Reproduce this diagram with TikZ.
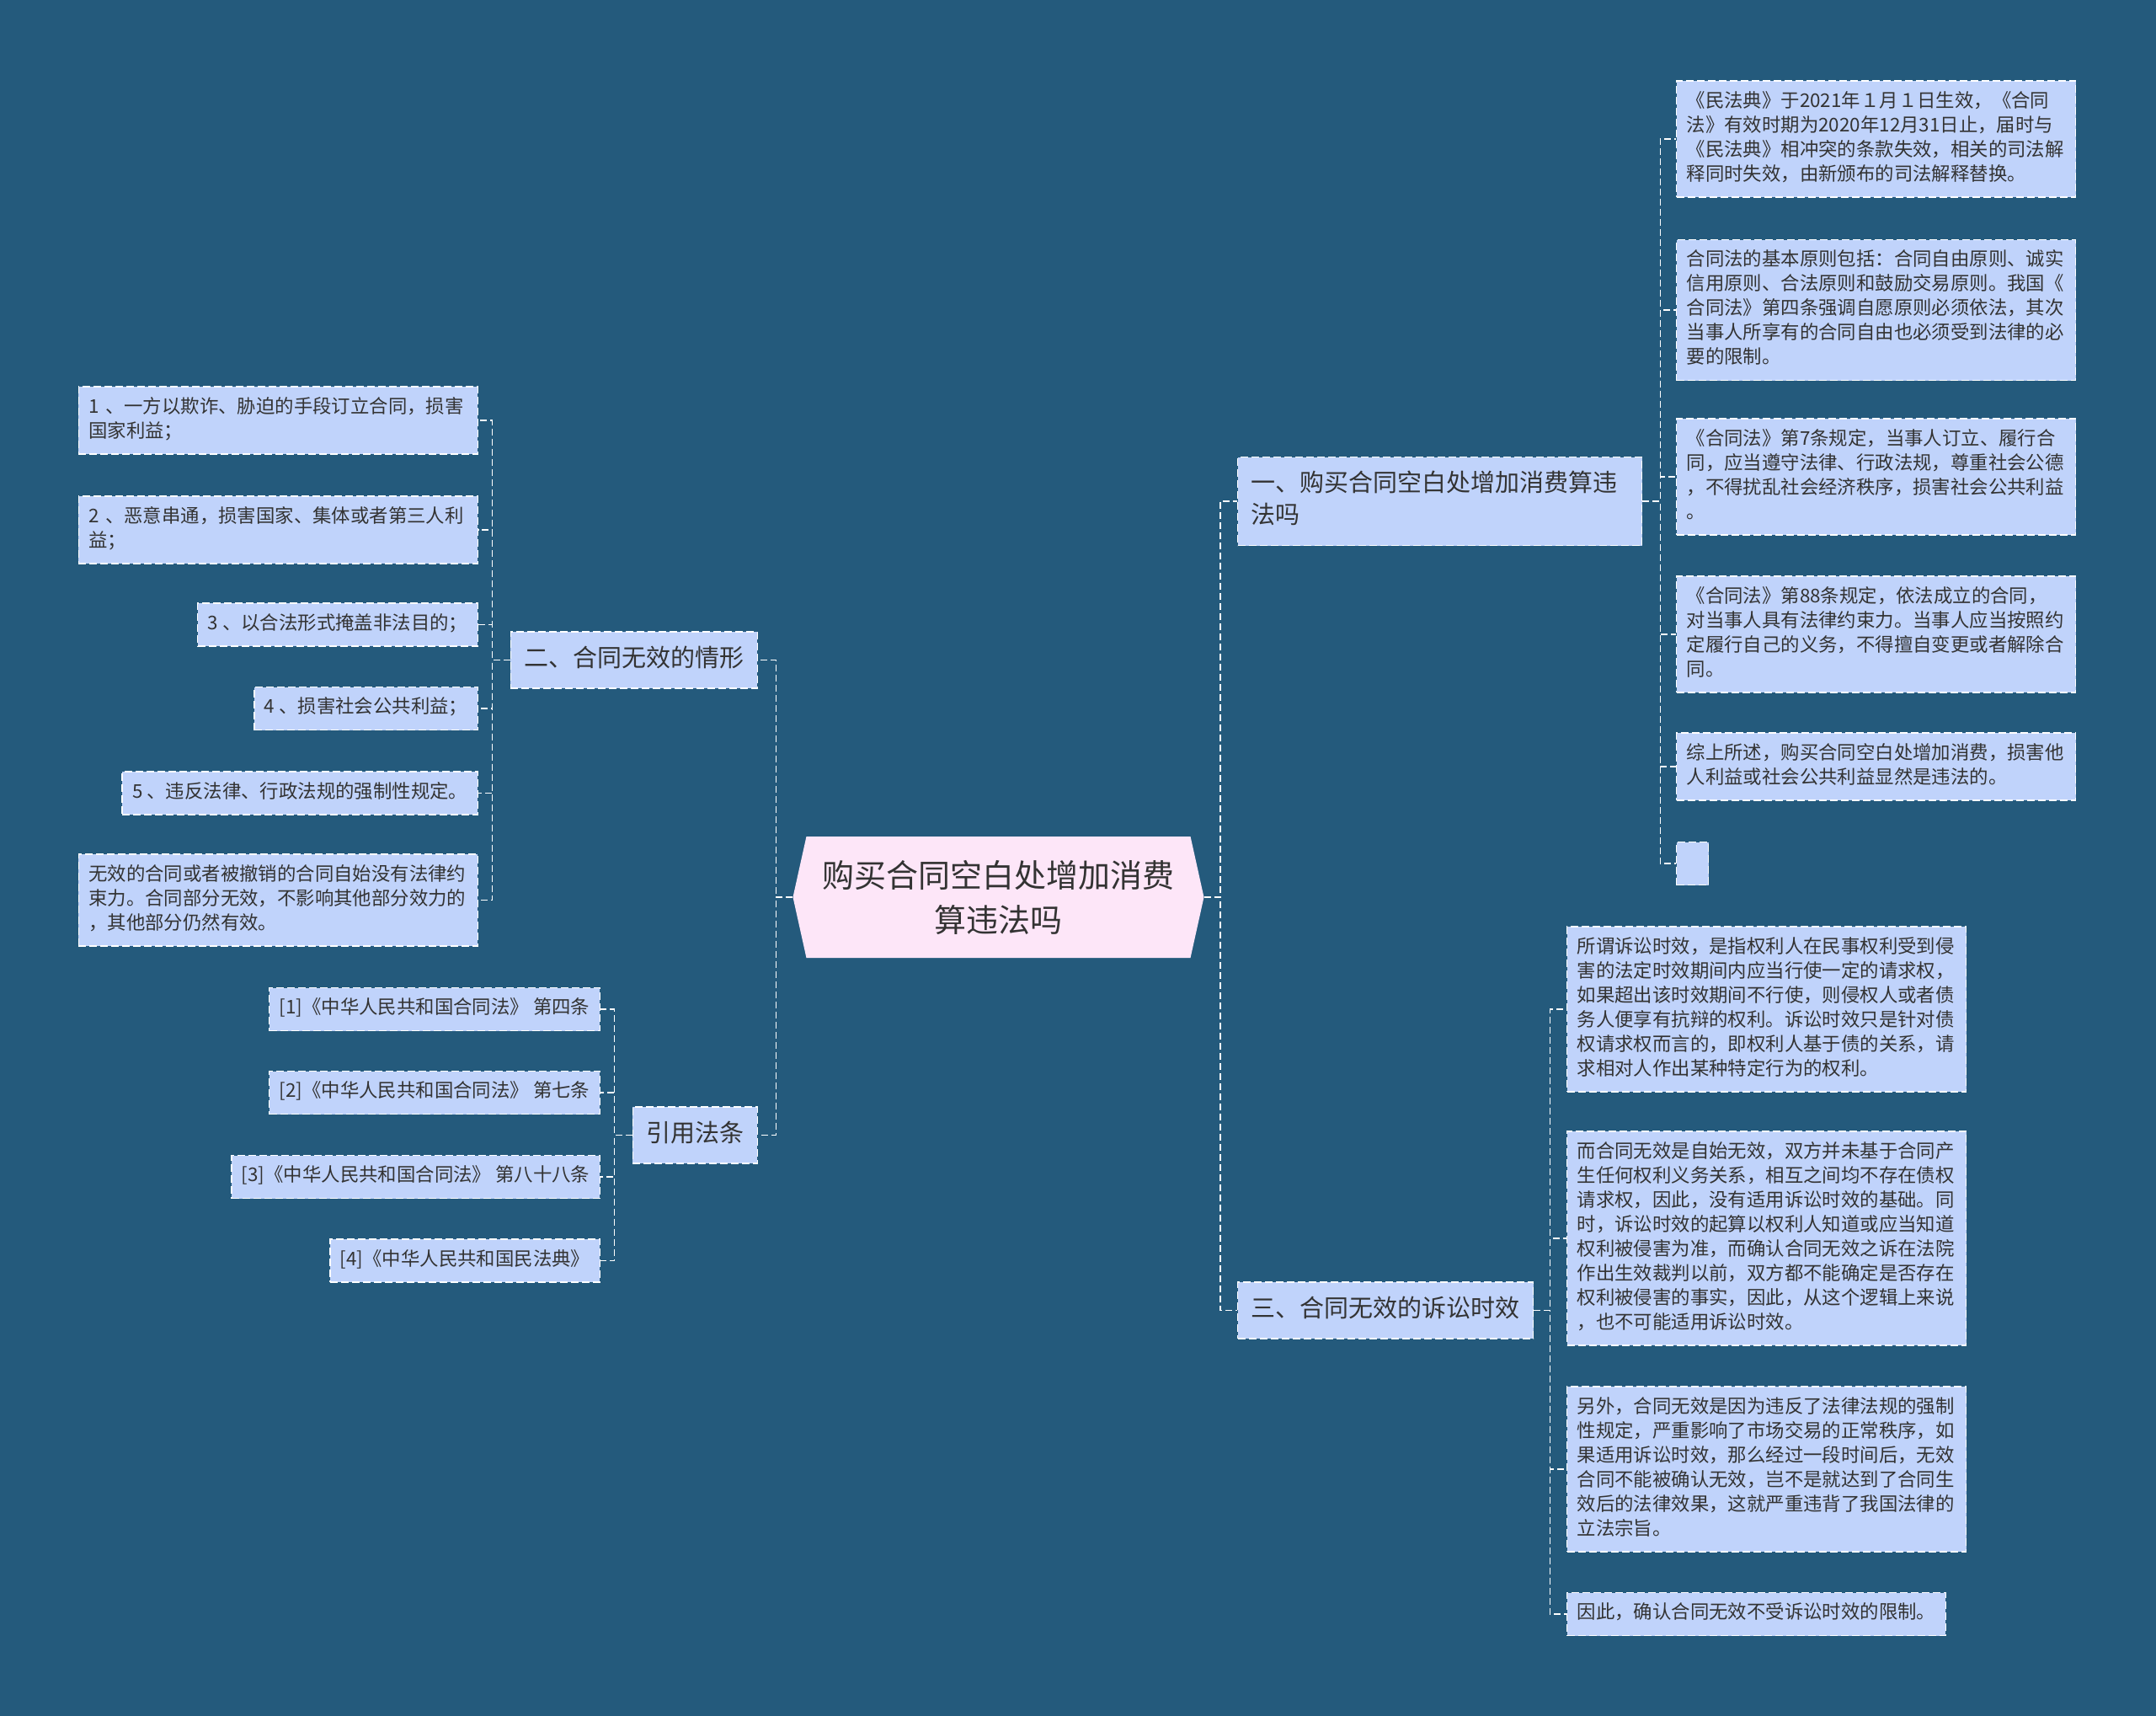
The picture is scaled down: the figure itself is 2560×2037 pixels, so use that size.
\documentclass[tikz,border=0pt]{standalone}
\usepackage{fontspec}
\setmainfont{Noto Sans CJK SC}
\usetikzlibrary{shapes.symbols}
\definecolor{bgblue}{HTML}{245A7C}
\definecolor{leafblue}{HTML}{C0D3FB}
\definecolor{rootpink}{HTML}{FDE6F8}
\definecolor{inkgray}{HTML}{333333}

\begin{document}
\begin{tikzpicture}[x=1pt,y=-1pt,
  link/.style={draw=white, line width=1.6pt, dash pattern=on 8pt off 4pt},
  leaf/.style={draw=white, line width=1.4pt, dash pattern=on 9pt off 4pt, fill=leafblue, text=inkgray,
    font=\fontsize{22.4}{29}\selectfont, inner xsep=12pt, inner ysep=11pt, align=left,
    execute at begin node=\strut, execute at end node=\strut},
  wide/.style={text width=450pt},
  branch/.style={leaf, font=\fontsize{29}{38}\selectfont, inner xsep=16pt, inner ysep=14.5pt},
  hub/.style={signal, signal to=west and east, signal pointer angle=155, fill=rootpink, text=inkgray,
    font=\fontsize{38}{53}\selectfont, align=center, minimum width=488pt, minimum height=144pt, text width=440pt}]
\fill[bgblue] (0,0) rectangle (2560,2037);
\useasboundingbox (0,0) rectangle (2560,2037);

\node[hub] (hub) at (1185.5,1065) {购买合同空白处增加消费\\算违法吗};

\node[branch, text width=448pt, anchor=west] (b1) at (1469,595) {一、购买合同空白处增加消费算违\\法吗};
\node[branch, anchor=west] (b3) at (1469,1555.5) {三、合同无效的诉讼时效};
\node[branch, anchor=east] (b2) at (900,783.5) {二、合同无效的情形};
\node[branch, anchor=east] (b4) at (900,1347.5) {引用法条};

\node[leaf, wide, anchor=west] (r1) at (1990,165) {《民法典》于2021年１月１日生效，《合同\\法》有效时期为2020年12月31日止，届时与\\《民法典》相冲突的条款失效，相关的司法解\\释同时失效，由新颁布的司法解释替换。};
\node[leaf, wide, anchor=west] (r2) at (1990,368) {合同法的基本原则包括：合同自由原则、诚实\\信用原则、合法原则和鼓励交易原则。我国《\\合同法》第四条强调自愿原则必须依法，其次\\当事人所享有的合同自由也必须受到法律的必\\要的限制。};
\node[leaf, wide, anchor=west] (r3) at (1990,566) {《合同法》第7条规定，当事人订立、履行合\\同，应当遵守法律、行政法规，尊重社会公德\\，不得扰乱社会经济秩序，损害社会公共利益\\。};
\node[leaf, wide, anchor=west] (r4) at (1990,753) {《合同法》第88条规定，依法成立的合同，\\对当事人具有法律约束力。当事人应当按照约\\定履行自己的义务，不得擅自变更或者解除合\\同。};
\node[leaf, wide, anchor=west] (r5) at (1990,910) {综上所述，购买合同空白处增加消费，损害他\\人利益或社会公共利益显然是违法的。};
\node[leaf, minimum width=38pt, anchor=west] (r6) at (1990,1025) {};

\node[leaf, wide, anchor=west] (t1) at (1860,1198) {所谓诉讼时效，是指权利人在民事权利受到侵\\害的法定时效期间内应当行使一定的请求权，\\如果超出该时效期间不行使，则侵权人或者债\\务人便享有抗辩的权利。诉讼时效只是针对债\\权请求权而言的，即权利人基于债的关系，请\\求相对人作出某种特定行为的权利。};
\node[leaf, wide, anchor=west] (t2) at (1860,1470) {而合同无效是自始无效，双方并未基于合同产\\生任何权利义务关系，相互之间均不存在债权\\请求权，因此，没有适用诉讼时效的基础。同\\时，诉讼时效的起算以权利人知道或应当知道\\权利被侵害为准，而确认合同无效之诉在法院\\作出生效裁判以前，双方都不能确定是否存在\\权利被侵害的事实，因此，从这个逻辑上来说\\，也不可能适用诉讼时效。};
\node[leaf, wide, anchor=west] (t3) at (1860,1744) {另外，合同无效是因为违反了法律法规的强制\\性规定，严重影响了市场交易的正常秩序，如\\果适用诉讼时效，那么经过一段时间后，无效\\合同不能被确认无效，岂不是就达到了合同生\\效后的法律效果，这就严重违背了我国法律的\\立法宗旨。};
\node[leaf, anchor=west] (t4) at (1860,1916) {因此，确认合同无效不受诉讼时效的限制。};

\node[leaf, wide, anchor=east] (l1) at (568,499) {1 、一方以欺诈、胁迫的手段订立合同，损害\\国家利益；};
\node[leaf, wide, anchor=east] (l2) at (568,629) {2 、恶意串通，损害国家、集体或者第三人利\\益；};
\node[leaf, anchor=east] (l3) at (568,741.5) {3 、以合法形式掩盖非法目的；};
\node[leaf, anchor=east] (l4) at (568,841) {4 、损害社会公共利益；};
\node[leaf, anchor=east] (l5) at (568,941.5) {5 、违反法律、行政法规的强制性规定。};
\node[leaf, wide, anchor=east] (l6) at (568,1068.5) {无效的合同或者被撤销的合同自始没有法律约\\束力。合同部分无效，不影响其他部分效力的\\，其他部分仍然有效。};

\node[leaf, anchor=east] (q1) at (713,1198) {[1]《中华人民共和国合同法》 第四条};
\node[leaf, anchor=east] (q2) at (713,1297) {[2]《中华人民共和国合同法》 第七条};
\node[leaf, anchor=east] (q3) at (713,1397) {[3]《中华人民共和国合同法》 第八十八条};
\node[leaf, anchor=east] (q4) at (713,1496.5) {[4]《中华人民共和国民法典》};

\foreach \b in {b1,b3} \draw[link] (hub.east) -- ++(19,0) |- (\b.west);
\foreach \b in {b2,b4} \draw[link] (hub.west) -- ++(-20,0) |- (\b.east);
\foreach \c in {r1,r2,r3,r4,r5,r6} \draw[link] (b1.east) -- ++(21,0) |- (\c.west);
\foreach \c in {t1,t2,t3,t4} \draw[link] (b3.east) -- ++(19,0) |- (\c.west);
\foreach \c in {l1,l2,l3,l4,l5,l6} \draw[link] (b2.west) -- ++(-21,0) |- (\c.east);
\foreach \c in {q1,q2,q3,q4} \draw[link] (b4.west) -- ++(-21,0) |- (\c.east);
\end{tikzpicture}
\end{document}
